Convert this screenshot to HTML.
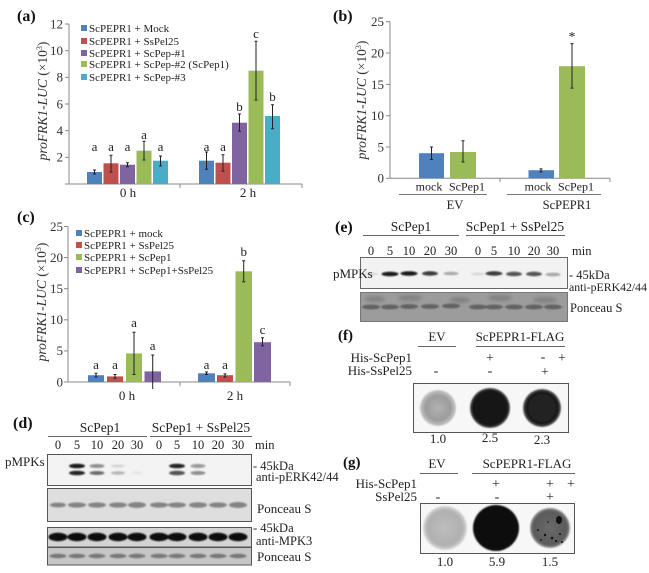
<!DOCTYPE html>
<html><head><meta charset="utf-8"><style>
html,body{margin:0;padding:0;background:#fff;}
svg{display:block;font-family:"Liberation Serif",serif;}
</style></head><body>
<svg width="649" height="573" viewBox="0 0 649 573" xmlns="http://www.w3.org/2000/svg">
<defs>
<filter id="bl1" x="-50%" y="-50%" width="200%" height="200%"><feGaussianBlur stdDeviation="0.9"/></filter>
<filter id="bl2" x="-50%" y="-50%" width="200%" height="200%"><feGaussianBlur stdDeviation="1.6"/></filter>
<radialGradient id="gEV" cx="50%" cy="50%" r="50%"><stop offset="0" stop-color="#b2b2b2"/><stop offset="0.7" stop-color="#9c9c9c"/><stop offset="1" stop-color="#c8c8c8"/></radialGradient>
<radialGradient id="gEV2" cx="50%" cy="50%" r="50%"><stop offset="0" stop-color="#bdbdbd"/><stop offset="0.8" stop-color="#b0b0b0"/><stop offset="1" stop-color="#d8d8d8"/></radialGradient>
<radialGradient id="gDk" cx="50%" cy="50%" r="50%"><stop offset="0" stop-color="#1a1a1a"/><stop offset="0.85" stop-color="#111"/><stop offset="1" stop-color="#555"/></radialGradient>
<radialGradient id="gMid" cx="50%" cy="50%" r="50%"><stop offset="0" stop-color="#6a6a6a"/><stop offset="0.85" stop-color="#5a5a5a"/><stop offset="1" stop-color="#999"/></radialGradient>
</defs>
<rect width="649" height="573" fill="#fff"/>

<!-- ================= (a) ================= -->
<text x="17" y="21" font-size="16" font-weight="bold" fill="#111">(a)</text>
<g stroke="#888" stroke-width="1" fill="none">
<line x1="69" y1="24" x2="69" y2="184"/>
<line x1="69" y1="184" x2="302" y2="184"/>
<line x1="65" y1="24" x2="69" y2="24"/><line x1="65" y1="50.7" x2="69" y2="50.7"/><line x1="65" y1="77.3" x2="69" y2="77.3"/><line x1="65" y1="104" x2="69" y2="104"/><line x1="65" y1="130.7" x2="69" y2="130.7"/><line x1="65" y1="157.3" x2="69" y2="157.3"/><line x1="65" y1="184" x2="69" y2="184"/>
<line x1="180" y1="184" x2="180" y2="188"/><line x1="302" y1="184" x2="302" y2="188"/>
</g>
<g font-size="13" fill="#333" text-anchor="end">
<text x="63" y="28.5">12</text><text x="63" y="55">10</text><text x="63" y="81.5">8</text><text x="63" y="108.5">6</text><text x="63" y="135">4</text><text x="63" y="161.5">2</text>
</g>
<text transform="translate(47,101) rotate(-90)" font-size="13.5" fill="#333" text-anchor="middle"><tspan font-style="italic">proFRK1-LUC</tspan> (×10<tspan font-size="8" dy="-5">3</tspan><tspan dy="5">)</tspan></text>
<rect x="87" y="172" width="15" height="12" fill="#4F81BD"/>
<rect x="103.5" y="163.3" width="15" height="20.7" fill="#C0504D"/>
<rect x="120" y="164.7" width="15" height="19.3" fill="#8064A2"/>
<rect x="136.5" y="150.7" width="15" height="33.3" fill="#9BBB59"/>
<rect x="153" y="160.7" width="15" height="23.3" fill="#4BACC6"/>
<rect x="199" y="160.7" width="15" height="23.3" fill="#4F81BD"/>
<rect x="215.5" y="162.7" width="15" height="21.3" fill="#C0504D"/>
<rect x="232" y="122.7" width="15" height="61.3" fill="#8064A2"/>
<rect x="248.5" y="70.7" width="15" height="113.3" fill="#9BBB59"/>
<rect x="265" y="116" width="15" height="68" fill="#4BACC6"/>
<g stroke="#222" stroke-width="1">
<path d="M94.5 174V170M93 174h3M93 170h3"/>
<path d="M111 172V155.3M109.5 172h3M109.5 155.3h3"/>
<path d="M127.5 166.7V162.7M126 166.7h3M126 162.7h3"/>
<path d="M144 160V141.3M142.5 160h3M142.5 141.3h3"/>
<path d="M160.5 166V156M159 166h3M159 156h3"/>
<path d="M206.5 169.3V152M205 169.3h3M205 152h3"/>
<path d="M223 171.3V154.7M221.5 171.3h3M221.5 154.7h3"/>
<path d="M239.5 131.3V114M238 131.3h3M238 114h3"/>
<path d="M256 100V41.3M254.5 100h3M254.5 41.3h3"/>
<path d="M272.5 128.7V104.7M271 128.7h3M271 104.7h3"/>
</g>
<g font-size="13" fill="#222" text-anchor="middle">
<text x="94.5" y="151">a</text><text x="111" y="151">a</text><text x="127.5" y="151">a</text><text x="144" y="139">a</text><text x="160.5" y="151">a</text>
<text x="206.5" y="151">a</text><text x="223" y="151">a</text><text x="239.5" y="111">b</text><text x="256" y="38">c</text><text x="272.5" y="101">b</text>
<text x="128" y="197">0 h</text><text x="248" y="197">2 h</text>
</g>
<rect x="81" y="25" width="6" height="6" fill="#4F81BD"/>
<rect x="81" y="38" width="6" height="6" fill="#C0504D"/>
<rect x="81" y="50" width="6" height="6" fill="#8064A2"/>
<rect x="81" y="61" width="6" height="6" fill="#9BBB59"/>
<rect x="81" y="74" width="6" height="6" fill="#4BACC6"/>
<g font-size="11" fill="#222">
<text x="89" y="32">ScPEPR1 + Mock</text>
<text x="89" y="45">ScPEPR1 + SsPel25</text>
<text x="89" y="57">ScPEPR1 + ScPep-#1</text>
<text x="89" y="68">ScPEPR1 + ScPep-#2 (ScPep1)</text>
<text x="89" y="81">ScPEPR1 + ScPep-#3</text>
</g>

<!-- ================= (b) ================= -->
<text x="333" y="21" font-size="16" font-weight="bold" fill="#111">(b)</text>
<g stroke="#888" stroke-width="1" fill="none">
<line x1="390" y1="21.7" x2="390" y2="178.3"/>
<line x1="390" y1="178.3" x2="610" y2="178.3"/>
<line x1="386" y1="21.7" x2="390" y2="21.7"/><line x1="386" y1="53" x2="390" y2="53"/><line x1="386" y1="84.4" x2="390" y2="84.4"/><line x1="386" y1="115.7" x2="390" y2="115.7"/><line x1="386" y1="147" x2="390" y2="147"/><line x1="386" y1="178.3" x2="390" y2="178.3"/>
<line x1="500" y1="178.3" x2="500" y2="182"/><line x1="610" y1="178.3" x2="610" y2="182"/>
</g>
<g font-size="13" fill="#333" text-anchor="end">
<text x="384" y="26">25</text><text x="384" y="57.5">20</text><text x="384" y="89">15</text><text x="384" y="120">10</text><text x="384" y="151.5">5</text><text x="384" y="182.5">0</text>
</g>
<text transform="translate(366,100) rotate(-90)" font-size="13.5" fill="#333" text-anchor="middle"><tspan font-style="italic">proFRK1-LUC</tspan> (×10<tspan font-size="8" dy="-5">3</tspan><tspan dy="5">)</tspan></text>
<rect x="419" y="153.2" width="25" height="25.1" fill="#4F81BD"/>
<rect x="450" y="152" width="26" height="26.3" fill="#9BBB59"/>
<rect x="528.5" y="170.2" width="25.5" height="8.1" fill="#4F81BD"/>
<rect x="559" y="66.2" width="26" height="112.1" fill="#9BBB59"/>
<g stroke="#222" stroke-width="1">
<path d="M431.5 159.5V147M430 159.5h3M430 147h3"/>
<path d="M463 162V140.7M461.5 162h3M461.5 140.7h3"/>
<path d="M541 172V168.9M539.5 172h3M539.5 168.9h3"/>
<path d="M572 88.1V43.6M570.5 88.1h3M570.5 43.6h3"/>
</g>
<text x="572" y="41" font-size="14" fill="#222" text-anchor="middle">*</text>
<g font-size="12" fill="#222" text-anchor="middle">
<text x="429" y="190.5">mock</text><text x="467" y="190.5">ScPep1</text>
<text x="538" y="190.5">mock</text><text x="576" y="190.5">ScPep1</text>
</g>
<g font-size="12.5" fill="#222" text-anchor="middle">
<text x="455" y="209">EV</text><text x="567" y="209">ScPEPR1</text>
</g>
<g stroke="#777" stroke-width="1"><line x1="399" y1="194.5" x2="487" y2="194.5"/><line x1="507" y1="194.5" x2="601" y2="194.5"/></g>

<!-- ================= (c) ================= -->
<text x="17" y="222" font-size="16" font-weight="bold" fill="#111">(c)</text>
<g stroke="#888" stroke-width="1" fill="none">
<line x1="68" y1="226.5" x2="68" y2="382"/>
<line x1="68" y1="382" x2="290" y2="382"/>
<line x1="64" y1="226.5" x2="68" y2="226.5"/><line x1="64" y1="257.6" x2="68" y2="257.6"/><line x1="64" y1="288.7" x2="68" y2="288.7"/><line x1="64" y1="319.8" x2="68" y2="319.8"/><line x1="64" y1="350.9" x2="68" y2="350.9"/><line x1="64" y1="382" x2="68" y2="382"/>
<line x1="180" y1="382" x2="180" y2="386"/><line x1="290" y1="382" x2="290" y2="386"/>
</g>
<g font-size="13" fill="#333" text-anchor="end">
<text x="63" y="231">25</text><text x="63" y="262">20</text><text x="63" y="293">15</text><text x="63" y="324">10</text><text x="63" y="355">5</text><text x="63" y="386.5">0</text>
</g>
<text transform="translate(46,302) rotate(-90)" font-size="13.5" fill="#333" text-anchor="middle"><tspan font-style="italic">proFRK1-LUC</tspan> (×10<tspan font-size="8" dy="-5">3</tspan><tspan dy="5">)</tspan></text>
<rect x="88" y="375.2" width="16" height="6.8" fill="#4F81BD"/>
<rect x="107" y="376.4" width="16" height="5.6" fill="#C0504D"/>
<rect x="126" y="353.4" width="16" height="28.6" fill="#9BBB59"/>
<rect x="144.5" y="371.4" width="16.5" height="10.6" fill="#8064A2"/>
<rect x="198" y="373.3" width="17" height="8.7" fill="#4F81BD"/>
<rect x="217" y="375.2" width="16" height="6.8" fill="#C0504D"/>
<rect x="235.5" y="271.3" width="16.5" height="110.7" fill="#9BBB59"/>
<rect x="254" y="342.2" width="17" height="39.8" fill="#8064A2"/>
<g stroke="#222" stroke-width="1">
<path d="M96 377V373.3M94.5 377h3M94.5 373.3h3"/>
<path d="M115 378.3V374.5M113.5 378.3h3M113.5 374.5h3"/>
<path d="M134 374.5V332.2M132.5 374.5h3M132.5 332.2h3"/>
<path d="M152.7 389V355M151.2 355h3"/>
<path d="M206.5 374.5V372M205 374.5h3M205 372h3"/>
<path d="M225 377V373.9M223.5 377h3M223.5 373.9h3"/>
<path d="M243.7 281.9V260.7M242.2 281.9h3M242.2 260.7h3"/>
<path d="M262.5 345.9V337.8M261 345.9h3M261 337.8h3"/>
</g>
<g font-size="13" fill="#222" text-anchor="middle">
<text x="96" y="369">a</text><text x="115" y="369">a</text><text x="134" y="327">a</text><text x="152.7" y="350">a</text>
<text x="206.5" y="369">a</text><text x="225" y="369">a</text><text x="243.7" y="256">b</text><text x="262.5" y="334">c</text>
<text x="127" y="400">0 h</text><text x="235" y="400">2 h</text>
</g>
<rect x="76" y="230" width="6" height="6" fill="#4F81BD"/>
<rect x="76" y="242" width="6" height="6" fill="#C0504D"/>
<rect x="76" y="254" width="6" height="6" fill="#9BBB59"/>
<rect x="76" y="267" width="6" height="6" fill="#8064A2"/>
<g font-size="11" fill="#222">
<text x="84" y="237">ScPEPR1 + mock</text>
<text x="84" y="249">ScPEPR1 + SsPel25</text>
<text x="84" y="261">ScPEPR1 + ScPep1</text>
<text x="84" y="274">ScPEPR1 + ScPep1+SsPel25</text>
</g>

<!-- ================= (d) ================= -->
<text x="13" y="428" font-size="16" font-weight="bold" fill="#111">(d)</text>
<g font-size="13.5" fill="#222" text-anchor="middle">
<text x="100" y="432">ScPep1</text><text x="201" y="432">ScPep1 + SsPel25</text>
</g>
<g stroke="#666" stroke-width="1"><line x1="48" y1="436.5" x2="147" y2="436.5"/><line x1="150" y1="436.5" x2="252" y2="436.5"/></g>
<g font-size="12.5" fill="#222" text-anchor="middle">
<text x="58" y="449">0</text><text x="77" y="449">5</text><text x="97" y="449">10</text><text x="118" y="449">20</text><text x="137" y="449">30</text>
<text x="159" y="449">0</text><text x="177" y="449">5</text><text x="198" y="449">10</text><text x="218" y="449">20</text><text x="238" y="449">30</text>
</g>
<text x="255" y="449" font-size="12.5" fill="#222">min</text>
<rect x="47.5" y="454.5" width="204" height="31" fill="#f3f3f3" stroke="#555"/>
<g filter="url(#bl1)" fill="#111">
<ellipse cx="77" cy="466" rx="8" ry="2.3" opacity="0.95"/><ellipse cx="77" cy="473" rx="8" ry="2.3" opacity="0.9"/>
<ellipse cx="97" cy="466" rx="7.5" ry="2" opacity="0.45"/><ellipse cx="97" cy="473" rx="7.5" ry="2" opacity="0.6"/>
<ellipse cx="118" cy="466" rx="7" ry="1.6" opacity="0.12"/><ellipse cx="118" cy="473" rx="7" ry="1.8" opacity="0.25"/>
<ellipse cx="137" cy="473" rx="6" ry="1.5" opacity="0.06"/>
<ellipse cx="177" cy="466" rx="8" ry="2.3" opacity="0.9"/><ellipse cx="177" cy="473" rx="8" ry="2.3" opacity="0.7"/>
<ellipse cx="198" cy="466" rx="7.5" ry="2" opacity="0.4"/><ellipse cx="198" cy="473" rx="7.5" ry="2" opacity="0.45"/>
</g>
<text x="5" y="466" font-size="13" fill="#222">pMPKs</text>
<text x="253" y="470" font-size="12.5" fill="#222">- 45kDa</text>
<text x="256" y="481" font-size="12.5" fill="#222">anti-pERK42/44</text>
<rect x="47.5" y="488.5" width="204" height="33" fill="#dedede" stroke="#555"/>
<g filter="url(#bl1)" fill="#555" opacity="0.65">
<ellipse cx="58" cy="505" rx="8" ry="2.4"/><ellipse cx="77" cy="505" rx="9" ry="2.6"/><ellipse cx="97" cy="505" rx="9" ry="2.6"/><ellipse cx="118" cy="505" rx="9" ry="2.6"/><ellipse cx="137" cy="505" rx="9" ry="3"/>
<ellipse cx="159" cy="505" rx="9" ry="2.6"/><ellipse cx="177" cy="505" rx="9" ry="2.6"/><ellipse cx="198" cy="505" rx="9" ry="2.8"/><ellipse cx="218" cy="505" rx="9" ry="2.6"/><ellipse cx="238" cy="505" rx="9" ry="3"/>
</g>
<text x="257" y="513" font-size="13" fill="#222">Ponceau S</text>
<rect x="47.5" y="527.5" width="204" height="19.5" fill="#d4d4d4" stroke="#555"/>
<g filter="url(#bl1)" fill="#0d0d0d">
<ellipse cx="58" cy="537" rx="9.5" ry="4.2"/><ellipse cx="77" cy="537" rx="9.5" ry="4.2"/><ellipse cx="97" cy="537" rx="9.5" ry="4.2"/><ellipse cx="118" cy="537" rx="9.5" ry="4.2"/><ellipse cx="137" cy="537" rx="9.5" ry="4.2"/>
<ellipse cx="159" cy="537" rx="9.5" ry="4.2"/><ellipse cx="177" cy="537" rx="9.5" ry="4.2"/><ellipse cx="198" cy="537" rx="9.5" ry="4.2"/><ellipse cx="218" cy="537" rx="9.5" ry="4.2"/><ellipse cx="238" cy="537" rx="9.5" ry="4.2"/>
</g>
<text x="253" y="532" font-size="12.5" fill="#222">- 45kDa</text>
<text x="256" y="545" font-size="12.5" fill="#222">anti-MPK3</text>
<rect x="47.5" y="547.5" width="204" height="17.5" fill="#c6c6c6" stroke="#555"/>
<g filter="url(#bl1)" fill="#444" opacity="0.6">
<ellipse cx="58" cy="556" rx="8.5" ry="2.2"/><ellipse cx="77" cy="556" rx="8.5" ry="2.2"/><ellipse cx="97" cy="556" rx="8.5" ry="2.2"/><ellipse cx="118" cy="556" rx="8.5" ry="2.2"/><ellipse cx="137" cy="556" rx="8.5" ry="2.2"/>
<ellipse cx="159" cy="556" rx="8.5" ry="2.2"/><ellipse cx="177" cy="556" rx="8.5" ry="2.2"/><ellipse cx="198" cy="556" rx="8.5" ry="2.2"/><ellipse cx="218" cy="556" rx="8.5" ry="2.2"/><ellipse cx="238" cy="556" rx="8.5" ry="2.2"/>
</g>
<text x="257" y="561" font-size="13" fill="#222">Ponceau S</text>

<!-- ================= (e) ================= -->
<text x="335" y="232" font-size="16" font-weight="bold" fill="#111">(e)</text>
<g font-size="13.5" fill="#222" text-anchor="middle">
<text x="411" y="231">ScPep1</text><text x="515" y="231">ScPep1 + SsPel25</text>
</g>
<g stroke="#666" stroke-width="1"><line x1="363" y1="235.5" x2="459" y2="235.5"/><line x1="466" y1="235.5" x2="565" y2="235.5"/></g>
<g font-size="12.5" fill="#222" text-anchor="middle">
<text x="371" y="255">0</text><text x="390" y="255">5</text><text x="409" y="255">10</text><text x="430" y="255">20</text><text x="451" y="255">30</text>
<text x="478" y="255">0</text><text x="494" y="255">5</text><text x="514" y="255">10</text><text x="534" y="255">20</text><text x="553" y="255">30</text>
</g>
<text x="572" y="255" font-size="12.5" fill="#222">min</text>
<rect x="360.5" y="257.5" width="207" height="31" fill="#f2f2f2" stroke="#666"/>
<g filter="url(#bl1)" fill="#111">
<ellipse cx="371" cy="274" rx="7" ry="1.5" opacity="0.1"/>
<ellipse cx="390" cy="274" rx="8.5" ry="2.3" opacity="0.95"/>
<ellipse cx="409" cy="273.5" rx="8.5" ry="2.3" opacity="0.95"/>
<ellipse cx="430" cy="273.5" rx="8" ry="2.2" opacity="0.8"/>
<ellipse cx="451" cy="273.5" rx="7.5" ry="1.8" opacity="0.3"/>
<ellipse cx="478" cy="274" rx="7" ry="1.5" opacity="0.1"/>
<ellipse cx="494" cy="273.5" rx="8.5" ry="2.2" opacity="0.8"/>
<ellipse cx="514" cy="274" rx="8" ry="2.2" opacity="0.7"/>
<ellipse cx="534" cy="274" rx="8" ry="2.2" opacity="0.7"/>
<ellipse cx="553" cy="274.5" rx="7.5" ry="1.8" opacity="0.35"/>
</g>
<text x="333" y="278" font-size="13" fill="#222">pMPKs</text>
<text x="569" y="279" font-size="12.5" fill="#222">- 45kDa</text>
<text x="569" y="291" font-size="11.8" fill="#222">anti-pERK42/44</text>
<rect x="360.5" y="292.5" width="207" height="29" fill="#9c9c9c" stroke="#777"/>
<g filter="url(#bl2)" fill="#777" opacity="0.7">
<ellipse cx="375" cy="299" rx="10" ry="3"/><ellipse cx="410" cy="298" rx="12" ry="3"/><ellipse cx="460" cy="300" rx="10" ry="3"/><ellipse cx="500" cy="298" rx="12" ry="3"/><ellipse cx="545" cy="300" rx="12" ry="3"/>
</g>
<g filter="url(#bl1)" fill="#4a4a4a" opacity="0.7">
<ellipse cx="371" cy="307" rx="9" ry="2.4"/><ellipse cx="390" cy="307" rx="9" ry="2.4"/><ellipse cx="409" cy="306.5" rx="9" ry="2.4"/><ellipse cx="430" cy="306.5" rx="9" ry="2.4"/><ellipse cx="451" cy="306" rx="9" ry="2.4"/>
<ellipse cx="478" cy="307" rx="9" ry="2.4"/><ellipse cx="494" cy="307" rx="9" ry="2.4"/><ellipse cx="514" cy="307" rx="9" ry="2.4"/><ellipse cx="534" cy="307" rx="9" ry="2.4"/><ellipse cx="553" cy="307" rx="9" ry="2.4"/>
</g>
<text x="570" y="312" font-size="12.5" fill="#222">Ponceau S</text>

<!-- ================= (f) ================= -->
<text x="338" y="340" font-size="15" font-weight="bold" fill="#111">(f)</text>
<g font-size="13" fill="#222" text-anchor="middle">
<text x="437" y="341">EV</text><text x="520" y="341">ScPEPR1-FLAG</text>
</g>
<g stroke="#666" stroke-width="1"><line x1="418" y1="346.5" x2="456" y2="346.5"/><line x1="476" y1="346.5" x2="565" y2="346.5"/></g>
<g font-size="13" fill="#222">
<text x="412" y="362" text-anchor="end">His-ScPep1</text>
<text x="412" y="375" text-anchor="end">His-SsPel25</text>
</g>
<g font-size="14" fill="#222" text-anchor="middle">
<text x="490" y="362">+</text><text x="543" y="361">-</text><text x="562" y="362">+</text>
<text x="436" y="375">-</text><text x="490" y="375">-</text><text x="545" y="376">+</text>
</g>
<rect x="413.5" y="383.5" width="155" height="49" fill="#f7f7f7" stroke="#555"/>
<g filter="url(#bl1)">
<circle cx="438" cy="408" r="18" fill="url(#gEV)"/>
<circle cx="490" cy="408" r="20" fill="url(#gDk)"/>
<circle cx="542" cy="408" r="19" fill="url(#gDk)" opacity="0.95"/>
</g>
<g font-size="13" fill="#222" text-anchor="middle">
<text x="438" y="443">1.0</text><text x="490" y="442">2.5</text><text x="542" y="444">2.3</text>
</g>

<!-- ================= (g) ================= -->
<text x="343" y="467" font-size="15" font-weight="bold" fill="#111">(g)</text>
<g font-size="13" fill="#222" text-anchor="middle">
<text x="437" y="468">EV</text><text x="527" y="468">ScPEPR1-FLAG</text>
</g>
<g stroke="#666" stroke-width="1"><line x1="420" y1="473.5" x2="458" y2="473.5"/><line x1="472" y1="473.5" x2="575" y2="473.5"/></g>
<g font-size="13" fill="#222">
<text x="417" y="488" text-anchor="end">His-ScPep1</text>
<text x="417" y="501" text-anchor="end">SsPel25</text>
</g>
<g font-size="14" fill="#222" text-anchor="middle">
<text x="496" y="488">+</text><text x="550" y="488">+</text><text x="571" y="488">+</text>
<text x="438" y="501">-</text><text x="497" y="501">-</text><text x="550" y="501">+</text>
</g>
<rect x="420.5" y="503.5" width="154" height="50" fill="#f7f7f7" stroke="#555"/>
<g filter="url(#bl1)">
<circle cx="445" cy="528" r="22" fill="url(#gEV2)"/>
<circle cx="496" cy="528" r="23" fill="#0a0a0a"/>
<circle cx="550" cy="528" r="20" fill="url(#gMid)"/>
</g>
<g fill="#111">
<ellipse cx="559" cy="520" rx="3" ry="4"/><circle cx="538" cy="530" r="1"/><circle cx="545" cy="535" r="1.2"/><circle cx="552" cy="538" r="1.3"/><circle cx="560" cy="534" r="1"/><circle cx="541" cy="540" r="0.9"/><circle cx="556" cy="541" r="1.1"/><circle cx="548" cy="522" r="0.8"/><circle cx="562" cy="542" r="1"/>
</g>
<g font-size="13" fill="#222" text-anchor="middle">
<text x="445" y="566">1.0</text><text x="497" y="566">5.9</text><text x="550" y="566">1.5</text>
</g>
</svg>
</body></html>
